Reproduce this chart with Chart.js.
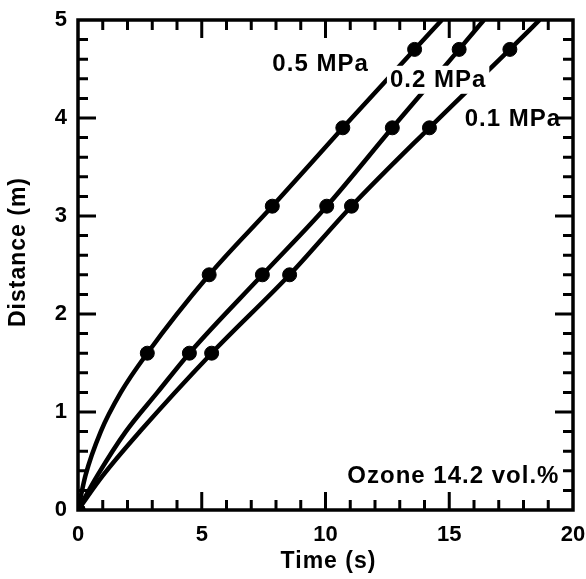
<html>
  <head>
    <title>Distance vs Time</title>
    <script src="https://cdn.jsdelivr.net/npm/chart.js@4.4.1/dist/chart.umd.min.js"></script>
    <style>
      body { margin: 0; background: #fff; }
      #wrap { width: 586px; height: 579px; }
    </style>
  </head>
  <body>
    <div id="wrap"><canvas id="chart" width="586" height="579"></canvas></div>
    <script>
      const pressures = ['0.5 MPa', '0.2 MPa', '0.1 MPa'];
      const markerD = [0, 1.6, 2.4, 3.1, 3.9, 4.7];
      const markerT05 = [0, 2.8, 5.3, 7.85, 10.7, 13.6];
      const markerT02 = [0, 4.5, 7.45, 10.05, 12.7, 15.4];
      const markerT01 = [0, 5.4, 8.55, 11.05, 14.2, 17.45];

      // fitted curves
      const curveT05 = [0, 0.3, 0.92, 1.73, 2.8, 5.3, 7.85, 10.7, 13.6, 14.7];
      const curveD05 = [0, 0.35, 0.8, 1.2, 1.6, 2.4, 3.1, 3.9, 4.7, 5.0];
      const curveT02 = [0, 0.78, 1.93, 3.21, 4.5, 7.45, 10.05, 12.7, 15.4, 16.4];
      const curveD02 = [0, 0.35, 0.8, 1.2, 1.6, 2.4, 3.1, 3.9, 4.7, 5.0];
      const curveT01 = [0, 1.0, 2.5, 5.4, 8.55, 11.05, 14.2, 17.45, 18.65];
      const curveD01 = [0, 0.35, 0.8, 1.6, 2.4, 3.1, 3.9, 4.7, 5.0];

      const xTicks = [0, 5, 10, 15, 20];
      const yTicks = [0, 1, 2, 3, 4, 5];
      const note = 'Ozone 14.2 vol.%';

      function pts(t, d) {
        return t.map(function (v, i) { return { x: v, y: d[i] }; });
      }

      const FONT = '"Liberation Sans", Arial, sans-serif';

      // label anchors in data units (centre of text)
      const labelPos = [
        { x: 9.8, y: 4.56 },
        { x: 14.55, y: 4.39 },
        { x: 17.57, y: 4.0 }
      ];

      const framePlugin = {
        id: 'frame',
        afterDatasetsDraw: function (chart) {
          const ctx = chart.ctx;
          const xs = chart.scales.x, ys = chart.scales.y;
          ctx.save();
          ctx.font = 'bold 24px ' + FONT;
          ctx.letterSpacing = '1px';
          ctx.textBaseline = 'middle';
          ctx.textAlign = 'center';
          pressures.forEach(function (p, i) {
            const cx = xs.getPixelForValue(labelPos[i].x);
            const cy = ys.getPixelForValue(labelPos[i].y);
            const w = ctx.measureText(p).width + 6;
            ctx.fillStyle = '#fff';
            ctx.fillRect(cx - w / 2, cy - 14, w, 28);
            ctx.fillStyle = '#000';
            ctx.fillText(p, cx, cy + 1);
          });
          // note, bottom right
          ctx.textAlign = 'right';
          const nx = xs.getPixelForValue(19.45), ny = ys.getPixelForValue(0.35);
          const nw = ctx.measureText(note).width + 6;
          ctx.fillStyle = '#fff';
          ctx.fillRect(nx - nw + 3, ny - 14, nw, 28);
          ctx.fillStyle = '#000';
          ctx.fillText(note, nx, ny + 1);
          ctx.restore();
        },
        afterDraw: function (chart) {
          const ctx = chart.ctx;
          const a = chart.chartArea;
          const xs = chart.scales.x, ys = chart.scales.y;
          ctx.save();
          ctx.strokeStyle = '#000';
          ctx.lineWidth = 3.5;
          ctx.strokeRect(a.left, a.top, a.right - a.left, a.bottom - a.top);
          ctx.lineWidth = 3;
          ctx.beginPath();
          for (let t = 1; t < 20; t++) {
            const px = xs.getPixelForValue(t);
            const len = t % 5 === 0 ? 18 : 10;
            ctx.moveTo(px, a.bottom); ctx.lineTo(px, a.bottom - len);
            ctx.moveTo(px, a.top); ctx.lineTo(px, a.top + len);
          }
          for (let k = 1; k < 25; k++) {
            const py = ys.getPixelForValue(k * 0.2);
            const len = k % 5 === 0 ? 18 : 10;
            ctx.moveTo(a.left, py); ctx.lineTo(a.left + len, py);
            ctx.moveTo(a.right, py); ctx.lineTo(a.right - len, py);
          }
          ctx.stroke();

          // axis titles
          ctx.fillStyle = '#000';
          ctx.font = 'bold 23px ' + FONT;
          ctx.letterSpacing = '1px';
          ctx.textAlign = 'center';
          ctx.textBaseline = 'middle';
          ctx.fillText('Time (s)', (a.left + a.right) / 2 + 3, 562);
          ctx.translate(19, 252);
          ctx.rotate(-Math.PI / 2);
          ctx.fillText('Distance (m)', 0, 0);
          ctx.restore();
        }
      };

      function curve(t, d) {
        return {
          type: 'line',
          data: pts(t, d),
          borderColor: '#000',
          borderWidth: 4.5,
          pointRadius: 0,
          fill: false,
          cubicInterpolationMode: 'monotone'
        };
      }
      function markers(t) {
        return {
          type: 'scatter',
          data: pts(t, markerD),
          backgroundColor: '#000',
          borderColor: '#000',
          pointRadius: 7,
          pointHoverRadius: 7,
          showLine: false
        };
      }

      new Chart(document.getElementById('chart'), {
        type: 'scatter',
        data: {
          datasets: [
            curve(curveT05, curveD05),
            curve(curveT02, curveD02),
            curve(curveT01, curveD01),
            markers(markerT05),
            markers(markerT02),
            markers(markerT01)
          ]
        },
        options: {
          responsive: false,
          animation: false,
          layout: { padding: { top: 20, right: 13, left: 0, bottom: 0 } },
          plugins: { legend: { display: false }, tooltip: { enabled: false } },
          scales: {
            x: {
              type: 'linear',
              min: 0, max: 20,
              afterBuildTicks: function (s) { s.ticks = xTicks.map(function (v) { return { value: v }; }); },
              afterFit: function (s) { s.height = 69; s.paddingLeft = 0; s.paddingRight = 0; },
              grid: { display: false, drawTicks: false },
              border: { display: false },
              ticks: { color: '#000', padding: 12, font: { family: FONT, size: 22, weight: 'bold' } }
            },
            y: {
              type: 'linear',
              min: 0, max: 5,
              afterBuildTicks: function (s) { s.ticks = yTicks.map(function (v) { return { value: v }; }); },
              afterFit: function (s) { s.width = 78; s.paddingTop = 0; s.paddingBottom = 0; },
              grid: { display: false, drawTicks: false },
              border: { display: false },
              ticks: { color: '#000', padding: 11, font: { family: FONT, size: 22, weight: 'bold' } }
            }
          }
        },
        plugins: [framePlugin]
      });
    </script>
  </body>
</html>
